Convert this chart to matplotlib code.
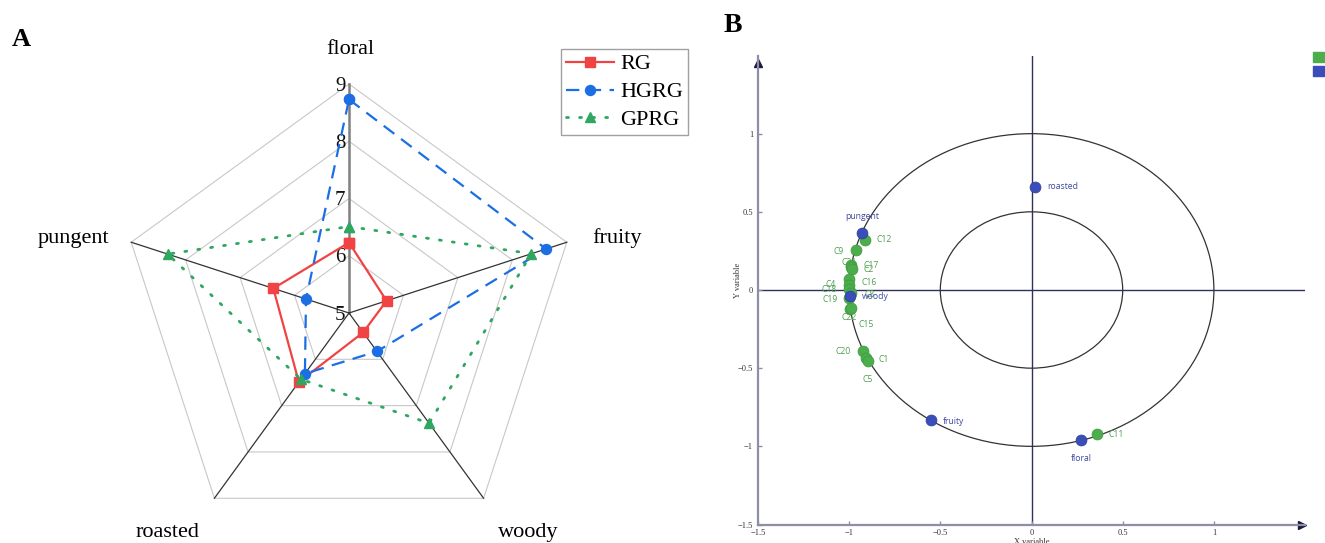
import numpy as np
import matplotlib.pyplot as plt
from matplotlib.patches import Circle, Rectangle

plt.rcParams['font.family'] = ['Liberation Serif', 'DejaVu Serif']

# ---- panel A data (radar) ----
attributes = ['floral', 'fruity', 'woody', 'roasted', 'pungent']
rg = [6.23, 5.69, 5.42, 6.49, 6.39]
hgrg = [8.73, 8.62, 5.83, 6.31, 5.79]
gprg = [6.51, 8.35, 7.38, 6.43, 8.33]
levels = [5, 6, 7, 8, 9]

# ---- panel B data (correlation circle) ----
var_names = ['roasted', 'pungent', 'woody', 'fruity', 'floral']
var_x = [0.020, -0.930, -0.996, -0.553, 0.271]
var_y = [0.661, 0.365, -0.038, -0.834, -0.960]

cmp_names = ['C12', 'C9', 'C21', 'C17', 'C2', 'C16', 'C4', 'C18', 'C8',
             'C19', 'C22', 'C15', 'C20', 'C1', 'C5', 'C11']
cmp_x = [-0.915, -0.963, -0.992, -0.990, -0.986, -1.000, -1.000, -1.002,
         -0.987, -1.003, -0.996, -0.992, -0.923, -0.905, -0.896, 0.357]
cmp_y = [0.320, 0.254, 0.160, 0.148, 0.135, 0.068, 0.032, 0.008,
         -0.021, -0.053, -0.124, -0.112, -0.390, -0.433, -0.454, -0.923]

ticks_b = [-1.5, -1, -0.5, 0, 0.5, 1]
tick_labels_b = ['\u22121.5', '\u22121', '\u22120.5', '0', '0.5', '1']

W, H = 1325, 543
fig = plt.figure(figsize=(W / 100, H / 100), dpi=100)

# ================= A =================
cx, cy, ppu = 349, 313, 57.25   # centre pixel and pixels per unit
axA = fig.add_axes([0, 0, 700 / W, 1])
axA.set_xlim(-cx / ppu, (700 - cx) / ppu)
axA.set_ylim((cy - H) / ppu, cy / ppu)
axA.axis('off')

angles = np.deg2rad(90 - 72 * np.arange(len(attributes)))
rmax = levels[-1] - levels[0]

def to_xy(vals):
    r = np.array(vals) - levels[0]
    r = np.append(r, r[0])
    a = np.append(angles, angles[0])
    return r * np.cos(a), r * np.sin(a)

for lev in levels[1:]:
    gx, gy = to_xy([lev] * len(attributes))
    axA.plot(gx, gy, color='#c8c8c8', lw=0.8, zorder=1)

for i, a in enumerate(angles):
    if i == 0:
        axA.plot([0, rmax * np.cos(a)], [0, rmax * np.sin(a)], color='#808080', lw=1.8, zorder=1)
    else:
        axA.plot([0, rmax * np.cos(a)], [0, rmax * np.sin(a)], color='#333333', lw=0.9, zorder=1)

for lev in levels:
    axA.annotate(str(lev), (0, lev - levels[0]), xytext=(-2.5, -1.5), textcoords='offset points',
                 ha='right', va='center', fontsize=15, color='#111111')

label_off = [(1.5, -34), (50, -4), (44.5, 34), (-46.5, 34), (-58, -4)]
for name, a, (dx, dy) in zip(attributes, angles, label_off):
    axA.annotate(name, (rmax * np.cos(a), rmax * np.sin(a)), xytext=(dx * 0.72, -dy * 0.72),
                 textcoords='offset points', ha='center', va='center', fontsize=16)

x, y = to_xy(rg)
axA.plot(x, y, color='#f04343', lw=1.6, marker='s', ms=6.5, label='RG', zorder=3)
x, y = to_xy(hgrg)
axA.plot(x, y, color='#1b6fe3', lw=1.6, ls=(0, (6.0, 3.8)), marker='o', ms=7.2, label='HGRG', zorder=4)
x, y = to_xy(gprg)
axA.plot(x, y, color='#2fa760', lw=2.0, ls=(0, (0.7, 4.0)), dash_capstyle='round',
         marker='^', ms=7.5, label='GPRG', zorder=5)

leg = axA.legend(loc='upper left', bbox_to_anchor=(560.7 / W, 1 - 49 / H),
                 bbox_transform=fig.transFigure, borderaxespad=0, fontsize=16,
                 handlelength=2.2, handletextpad=0.25, labelspacing=0.33, borderpad=0.22,
                 fancybox=False, edgecolor='#a0a0a0', framealpha=1)
leg.get_frame().set_linewidth(1.0)

fig.text(21.5 / W, 1 - 40 / H, 'A', fontsize=19, fontweight='bold', ha='center', va='center')
fig.text(732.5 / W, 1 - 25 / H, 'B', fontsize=20, fontweight='bold', ha='center', va='center')

# ================= B =================
left, right, bottom, top = 757.9, 1305.1, 524.5, 55.5
axB = fig.add_axes([left / W, (H - bottom) / H, (right - left) / W, (bottom - top) / H])
axB.set_xlim(-1.5, 1.5)
axB.set_ylim(-1.5, 1.5)
for s in ['top', 'right']:
    axB.spines[s].set_visible(False)
for s in ['left', 'bottom']:
    axB.spines[s].set_color('#8e8ea8')
    axB.spines[s].set_linewidth(1.6)
axB.set_xticks(ticks_b)
axB.set_xticklabels(tick_labels_b)
axB.set_yticks(ticks_b)
axB.set_yticklabels(tick_labels_b)
axB.tick_params(direction='in', length=3, width=1, color='#8e8ea8', labelsize=6,
                labelcolor='#333333', pad=3.5)

axB.plot([-1.5, 1.5], [0, 0], color='#2e3160', lw=1.0, zorder=1)
axB.plot([0, 0], [-1.5, 1.5], color='#2e3160', lw=1.0, zorder=1)
axB.plot([0], [0.985], marker='^', ms=6, color='#1a1a40', transform=axB.transAxes, clip_on=False)
axB.plot([0.995], [0], marker='>', ms=6, color='#1a1a40', transform=axB.transAxes, clip_on=False)

for rad in [1.0, 0.5]:
    axB.add_patch(Circle((0, 0), rad, fill=False, ec='#333333', lw=0.9, zorder=1))

axB.text(-0.036, 0.521, 'Y variable', rotation=90, transform=axB.transAxes,
         ha='center', va='center', fontsize=6, color='#333333')
axB.text(0.5, -0.037, 'X variable', transform=axB.transAxes,
         ha='center', va='center', fontsize=6, color='#333333')

green, blue = '#4cad4c', '#3a4db8'
axB.scatter(cmp_x, cmp_y, s=62, color=green, edgecolor='#3d9a3d', lw=0.5, zorder=3, clip_on=False)
axB.scatter(var_x, var_y, s=62, color=blue, edgecolor='#2f3f9a', lw=0.5, zorder=4, clip_on=False)

lab_font = ['Open Sans', 'DejaVu Sans']
cmp_off = [(12, 0, 'left'), (-12, 1, 'right'), (-1, -2, 'center'), (13, -1, 'left'),
           (12, 1, 'left'), (12, 3, 'left'), (-13, 0, 'right'), (-12, 1, 'right'),
           (13, 1, 'left'), (-11, 1, 'right'), (-1, 8, 'center'), (8, 17, 'left'),
           (-12, 1, 'right'), (12, 2, 'left'), (0, 19, 'center'), (12, 0, 'left')]
for n, xx, yy, (dx, dy, ha) in zip(cmp_names, cmp_x, cmp_y, cmp_off):
    axB.annotate(n, (xx, yy), xytext=(dx * 0.72, -dy * 0.72), textcoords='offset points',
                 ha=ha, va='center', fontsize=6.2, color='#4f9f4f', family=lab_font, zorder=2)

var_off = [(12, 0, 'left'), (0, -16, 'center'), (12, 1, 'left'), (12, 1, 'left'), (0, 18, 'center')]
for n, xx, yy, (dx, dy, ha) in zip(var_names, var_x, var_y, var_off):
    axB.annotate(n, (xx, yy), xytext=(dx * 0.72, -dy * 0.72), textcoords='offset points',
                 ha=ha, va='center', fontsize=6.2, color='#3d4a9e', family=lab_font, zorder=2)

# group legend squares at top right
fig.patches.append(Rectangle((1312.5 / W, 1 - 61.7 / H), 11 / W, 10 / H, color=green,
                             transform=fig.transFigure))
fig.patches.append(Rectangle((1312.5 / W, 1 - 76 / H), 11 / W, 10.5 / H, color=blue,
                             transform=fig.transFigure))

fig.savefig('out.png', dpi=100)
